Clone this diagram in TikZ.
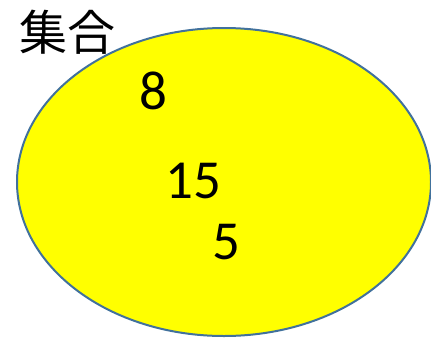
\documentclass[tikz,border=0pt]{standalone}
\usepackage{fontspec}
\setmainfont{Carlito}
\newfontfamily\jpfont{Noto Sans CJK JP}
\usetikzlibrary{shapes.geometric}
\definecolor{setyellow}{HTML}{FFFF00}
\definecolor{setblue}{HTML}{41719C}

\begin{document}
\begin{tikzpicture}[
  x=1pt, y=-1pt,
  setshape/.style={ellipse, draw=setblue, fill=setyellow, line width=2pt, minimum width=414pt, minimum height=308pt, inner sep=0pt},
  num/.style={inner sep=0pt, font=\fontsize{55}{60}\selectfont},
  title/.style={inner sep=0pt, font=\jpfont\fontsize{48}{54}\selectfont}
]
\useasboundingbox (0,0) rectangle (431,338);
\clip (0,0) rectangle (431,338);

\node[setshape] (set) at (224,182) {};
\node[title] (name) at (67.5,32) {集合};

\node[num] (eight) at (153.5,91) {8};
\node[num] (fifteen) at (193,181) {15};
\node[num] (five) at (226,242) {5};
\end{tikzpicture}
\end{document}
